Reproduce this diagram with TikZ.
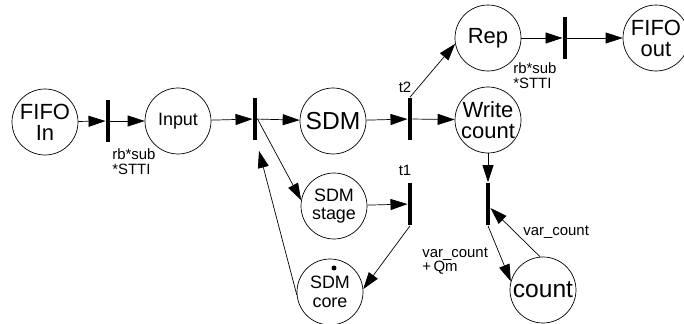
\documentclass[tikz,border=0pt]{standalone}
\usepackage{fontspec}
\setmainfont{Liberation Sans}
\usetikzlibrary{arrows.meta,positioning}
\tikzset{
  place/.style  = {draw, circle, thin, minimum size=1.32cm, inner sep=0pt,
                   align=center, font=\fontsize{12.5}{12}\selectfont},
  big place/.style = {place, font=\fontsize{14}{14}\selectfont},
  small place/.style = {place, font=\fontsize{10.2}{10.5}\selectfont},
  trans/.style  = {rectangle, fill=black, inner sep=0pt,
                   minimum width=0.085cm, minimum height=0.86cm},
  token/.style  = {circle, fill=black, inner sep=0pt, minimum size=0.1cm},
  lab/.style    = {align=left, inner sep=0pt, font=\fontsize{8.5}{8.5}\selectfont}
}

\begin{document}
\begin{tikzpicture}[x=0.02cm, y=-0.02cm, thin,
  >={Triangle[length=0.34cm,width=0.22cm]}]

\useasboundingbox (0,0) rectangle (684,324);

% places
\node[place] at (45,122) (FIFO In) {FIFO\\In};
\node[small place] at (178,121) (Input) {Input};
\node[big place] at (333,121) (SDM) {SDM};
\node[small place] at (334,206) (SDM stage) {SDM\\stage};
\node[small place] at (330,292) (SDM core) {SDM\\core};
\node[place] at (488,38) (Rep) {Rep};
\node[place] at (488,120) (Write count) {Write\\count};
\node[place] at (656,38) (FIFO out) {FIFO\\out};
\node[big place] at (543,290) (count) {count};
\node[token] at (334,268) (tok) {};

% transitions
\foreach \n/\x/\y in {tr1/108/121, tr2/255/119, t2/410/119, t1/410/204,
                      tr5/565/38, tr6/488/204}{
    \node[trans] at (\x,\y) (\n) {};
    }

% labels
\node[lab, anchor=north west] at (112,148) (l1) {rb*sub\\*STTI};
\node[lab, anchor=north west] at (513,62) (l2) {rb*sub\\*STTI};
\node[lab] at (405,87) (lt2) {t2};
\node[lab] at (405,170) (lt1) {t1};
\node[lab, anchor=north west] at (422,247) (l3) {var\_count\\+\,Qm};
\node[lab, anchor=west] at (523,232) (l4) {var\_count};

% arcs
\draw[->] (FIFO In) -- (tr1);
\draw[->] (tr1) -- (Input);
\draw[->] (Input) -- (tr2);
\draw[->] (tr2) -- (SDM);
\draw[->] (tr2.east) -- (SDM stage.170);
\draw[->] (SDM core.185) -- ([xshift=0.08cm,yshift=-0.2cm]tr2.south);
\draw[->] (SDM stage) -- (t1);
\draw[->] (t1.south) -- (SDM core.5);
\draw[->] (SDM) -- (t2);
\draw[->] (t2) -- (Write count);
\draw[->] (t2.north) -- (Rep.190);
\draw[->] (Rep) -- (tr5);
\draw[->] (tr5) -- (FIFO out);
\draw[->] (Write count) -- (tr6);
\draw[->] (tr6.south) -- (count.165);
\draw[->] (count.95) -- ([yshift=-0.08cm]tr6.east);

\end{tikzpicture}
\end{document}
